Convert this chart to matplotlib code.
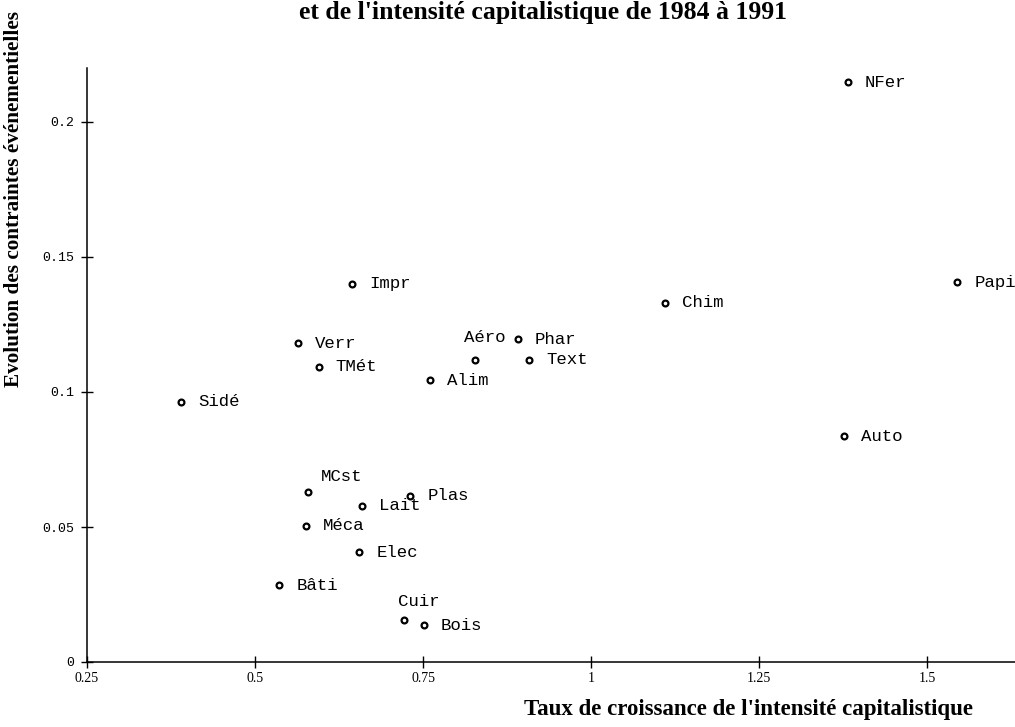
import matplotlib
matplotlib.use("Agg")
import matplotlib.pyplot as plt

# Data
sectors = ["NFer", "Papi", "Chim", "Impr", "Verr", "TMét", "Sidé", "Aéro", "Phar",
           "Text", "Alim", "Auto", "MCst", "Plas", "Lait", "Méca", "Elec", "Bâti",
           "Cuir", "Bois"]
capital_growth = [1.382, 1.545, 1.110, 0.644, 0.564, 0.595, 0.390, 0.827, 0.891,
                  0.908, 0.760, 1.376, 0.579, 0.731, 0.659, 0.576, 0.655, 0.536,
                  0.722, 0.751]
constraints_change = [0.2148, 0.1407, 0.1330, 0.1400, 0.1180, 0.1093, 0.0963, 0.1119,
                      0.1196, 0.1119, 0.1044, 0.0837, 0.0630, 0.0615, 0.0578, 0.0504,
                      0.0407, 0.0285, 0.0156, 0.0137]
xticks = [0.25, 0.5, 0.75, 1.0, 1.25, 1.5]
xticklabels = ["0.25", "0.5", "0.75", "1", "1.25", "1.5"]
yticks = [0, 0.05, 0.1, 0.15, 0.2]
yticklabels = ["0", "0.05", "0.1", "0.15", "0.2"]

# label placement (pixel offsets from the point)
label_offsets = {"Aéro": (10, 22), "MCst": (34, 15), "Cuir": (15, 18)}
default_offset = (17, 0)

W, H = 1015, 727
fig = plt.figure(figsize=(W / 100, H / 100), dpi=100)
ax = fig.add_axes([87 / W, 65 / H, (W - 87) / W, (662 - 68) / H])

ax.plot(capital_growth, constraints_change, linestyle="none", marker="o",
        markersize=4.2, markerfacecolor="white", markeredgecolor="black",
        markeredgewidth=1.6, clip_on=False)

for name, x, y in zip(sectors, capital_growth, constraints_change):
    if name in label_offsets:
        dx, dy = label_offsets[name]
        ax.annotate(name, (x, y), xytext=(dx, dy), textcoords="offset pixels",
                    ha="center", va="center", fontsize=12.5,
                    family="Liberation Mono", annotation_clip=False)
    else:
        dx, dy = default_offset
        ax.annotate(name, (x, y), xytext=(dx, dy), textcoords="offset pixels",
                    ha="left", va="center", fontsize=12.5,
                    family="Liberation Mono", annotation_clip=False)

ax.set_xlim(0.25, 0.25 + (W - 87) / 672)
ax.set_ylim(0, (662 - 68) / 2700)

for s in ["top", "right"]:
    ax.spines[s].set_visible(False)
for s in ["left", "bottom"]:
    ax.spines[s].set_linewidth(1.1)
    ax.spines[s].set_color("black")

ax.set_xticks(xticks)
ax.set_xticklabels(xticklabels, family="Liberation Serif", fontsize=10)
ax.set_yticks(yticks)
ax.set_yticklabels(yticklabels, family="Liberation Mono", fontsize=9.5)
ax.tick_params(axis="both", direction="inout", length=9, width=1.0, color="black")
ax.tick_params(axis="x", pad=3)
ax.tick_params(axis="y", pad=5)

fig.text(543 / W, 1 - 13 / H, "et de l'intensité capitalistique de 1984 à 1991",
         ha="center", va="center", fontsize=18.5, fontweight="bold",
         family="Liberation Serif")
fig.text(748 / W, 1 - 710 / H, "Taux de croissance de l'intensité capitalistique",
         ha="center", va="center", fontsize=16.5, fontweight="bold",
         family="Liberation Serif")
fig.text(14 / W, 1 - 387 / H, "Evolution des contraintes événementielles",
         ha="center", va="bottom", rotation=90, fontsize=15.3, fontweight="bold",
         family="Liberation Serif")

fig.savefig("out.png", dpi=100)
